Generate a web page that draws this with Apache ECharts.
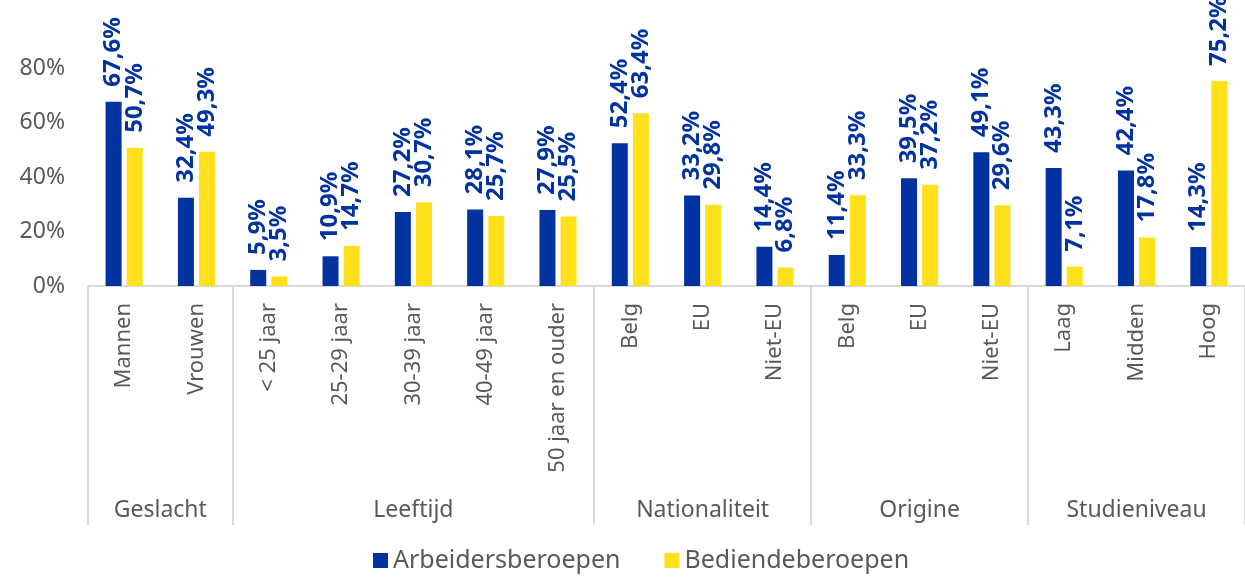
<!DOCTYPE html>
<html>
<head>
<meta charset="utf-8">
<script src="https://cdn.jsdelivr.net/npm/echarts@6/dist/echarts.min.js"></script>
<style>
  html, body { margin: 0; padding: 0; background: #fff; }
  #main { width: 1245px; height: 581px; }
</style>
</head>
<body>
<div id="main"></div>
<script>
// categorieen (onderste niveau) en groepen
var categories = ['Mannen', 'Vrouwen', '< 25 jaar', '25-29 jaar', '30-39 jaar', '40-49 jaar', '50 jaar en ouder',
  'Belg', 'EU', 'Niet-EU', 'Belg', 'EU', 'Niet-EU', 'Laag', 'Midden', 'Hoog'];
var groups = ['Geslacht', 'Leeftijd', 'Nationaliteit', 'Origine', 'Studieniveau'];
var groupSizes = [2, 5, 3, 3, 3];

var arbeiders = [67.6, 32.4, 5.9, 10.9, 27.2, 28.1, 27.9, 52.4, 33.2, 14.4, 11.4, 39.5, 49.1, 43.3, 42.4, 14.3];
var bedienden = [50.7, 49.3, 3.5, 14.7, 30.7, 25.7, 25.5, 63.4, 29.8, 6.8, 33.3, 37.2, 29.6, 7.1, 17.8, 75.2];

var yTicks = [0, 20, 40, 60, 80];

// grenzen en middens van de groepen op een 0..16 schaal
var bounds = [0];
var mids = [];
groupSizes.forEach(function (n) {
  var start = bounds[bounds.length - 1];
  mids.push(start + n / 2);
  bounds.push(start + n);
});

var blauw = '#0033a0';
var geel = '#ffe01b';
var grijs = '#595959';
var font = 'Noto Sans';

function pct(v) {
  return v.toFixed(1).replace('.', ',') + '%';
}

var myChart = echarts.init(document.getElementById('main'));

var labelStyle = {
  show: true,
  position: 'top',
  rotate: 90,
  align: 'left',
  verticalAlign: 'middle',
  distance: 15,
  color: blauw,
  fontFamily: font,
  fontWeight: 'bold',
  fontSize: 24,
  formatter: function (p) { return pct(p.value); }
};

var option = {
  animation: false,
  textStyle: { fontFamily: font },
  grid: { left: 88, right: 0, top: 68, bottom: 295 },
  legend: {
    bottom: 3,
    left: 368,
    icon: 'rect',
    itemWidth: 15,
    itemHeight: 15,
    itemGap: 44,
    textStyle: { color: grijs, fontSize: 25, fontFamily: font },
    data: ['Arbeidersberoepen', 'Bediendeberoepen']
  },
  xAxis: [{
    type: 'category',
    data: categories,
    axisLine: { lineStyle: { color: '#d9d9d9', width: 2 } },
    axisTick: { show: false },
    axisLabel: {
      interval: 0,
      rotate: 90,
      margin: 17,
      color: grijs,
      fontSize: 22,
      fontFamily: font
    }
  }, {
    type: 'value',
    position: 'bottom',
    min: 0,
    max: categories.length,
    axisLine: { show: false },
    splitLine: { show: false },
    axisTick: {
      show: true,
      customValues: bounds,
      length: 239,
      lineStyle: { color: '#d9d9d9', width: 2 }
    },
    axisLabel: {
      customValues: mids,
      margin: 213,
      color: grijs,
      fontSize: 23,
      fontFamily: font,
      formatter: function (v) { return groups[mids.indexOf(v)]; }
    }
  }],
  yAxis: {
    type: 'value',
    min: yTicks[0],
    max: yTicks[yTicks.length - 1],
    interval: 20,
    splitLine: { show: false },
    axisLine: { show: false },
    axisTick: { show: false },
    axisLabel: {
      margin: 23,
      color: grijs,
      fontSize: 23,
      fontFamily: font,
      formatter: '{value}%'
    }
  },
  series: [{
    name: 'Arbeidersberoepen',
    type: 'bar',
    xAxisIndex: 0,
    data: arbeiders,
    barWidth: 16,
    barGap: '32%',
    itemStyle: { color: blauw },
    label: labelStyle
  }, {
    name: 'Bediendeberoepen',
    type: 'bar',
    xAxisIndex: 0,
    data: bedienden,
    barWidth: 16,
    itemStyle: { color: geel },
    label: labelStyle
  }]
};

myChart.setOption(option);
</script>
</body>
</html>
